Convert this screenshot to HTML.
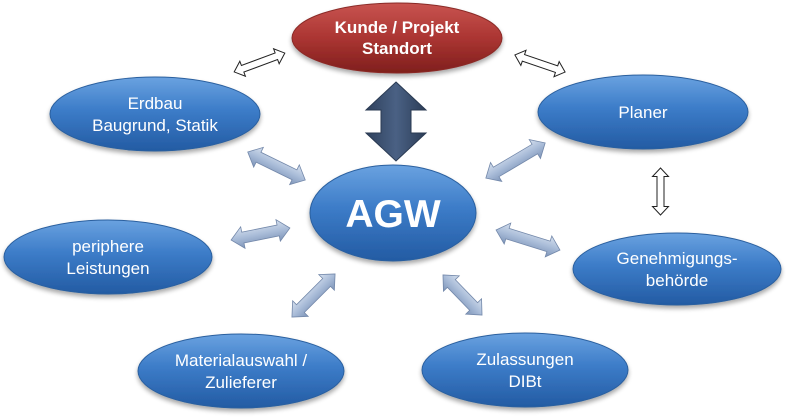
<!DOCTYPE html>
<html><head><meta charset="utf-8"><style>
html,body{margin:0;padding:0;background:#fff;}
svg{display:block;}
text{font-family:"Liberation Sans","DejaVu Sans",sans-serif;fill:#fff;text-anchor:middle;}
</style></head><body>
<svg width="787" height="417" viewBox="0 0 787 417" xmlns="http://www.w3.org/2000/svg">
<defs>
<linearGradient id="blue" x1="0" y1="0" x2="0" y2="1">
<stop offset="0" stop-color="#6aa2e0"/><stop offset="0.45" stop-color="#3c7cc8"/><stop offset="1" stop-color="#235ba3"/>
</linearGradient>
<linearGradient id="red" x1="0" y1="0" x2="0" y2="1">
<stop offset="0" stop-color="#c85450"/><stop offset="0.5" stop-color="#ab3532"/><stop offset="1" stop-color="#7f1f1d"/>
</linearGradient>
<linearGradient id="arr" x1="0" y1="0" x2="0" y2="1">
<stop offset="0" stop-color="#d6e0ee"/><stop offset="0.5" stop-color="#a9bcd8"/><stop offset="1" stop-color="#7d94b8"/>
</linearGradient>
<linearGradient id="dark" x1="0" y1="0" x2="1" y2="0">
<stop offset="0" stop-color="#2f415d"/><stop offset="0.5" stop-color="#4a6184"/><stop offset="1" stop-color="#2c3d57"/>
</linearGradient>
<filter id="sh" x="-10%" y="-10%" width="120%" height="130%">
<feGaussianBlur in="SourceAlpha" stdDeviation="2.5"/><feOffset dy="3"/>
<feComponentTransfer><feFuncA type="linear" slope="0.35"/></feComponentTransfer>
<feMerge><feMergeNode/><feMergeNode in="SourceGraphic"/></feMerge>
</filter>
</defs>

<g filter="url(#sh)">
<ellipse cx="397" cy="38" rx="105" ry="35" fill="url(#red)" stroke="#8a2a27" stroke-width="1"/>
<ellipse cx="155" cy="114" rx="105" ry="37" fill="url(#blue)" stroke="#2c609f" stroke-width="1"/>
<ellipse cx="643" cy="112" rx="105" ry="37" fill="url(#blue)" stroke="#2c609f" stroke-width="1"/>
<ellipse cx="393" cy="213" rx="83" ry="48" fill="url(#blue)" stroke="#2c609f" stroke-width="1"/>
<ellipse cx="108" cy="257" rx="104" ry="37" fill="url(#blue)" stroke="#2c609f" stroke-width="1"/>
<ellipse cx="677" cy="269" rx="104" ry="36" fill="url(#blue)" stroke="#2c609f" stroke-width="1"/>
<ellipse cx="241" cy="371" rx="103" ry="37" fill="url(#blue)" stroke="#2c609f" stroke-width="1"/>
<ellipse cx="525" cy="370" rx="103" ry="37" fill="url(#blue)" stroke="#2c609f" stroke-width="1"/>
</g>

<text x="397" y="33" font-size="17" font-weight="bold">Kunde / Projekt</text>
<text x="397" y="54" font-size="17" font-weight="bold">Standort</text>
<text x="155" y="109" font-size="17">Erdbau</text>
<text x="155" y="131" font-size="17">Baugrund, Statik</text>
<text x="643" y="118" font-size="17">Planer</text>
<text x="393" y="227" font-size="39" font-weight="bold">AGW</text>
<text x="108" y="252" font-size="17">periphere</text>
<text x="108" y="274" font-size="17">Leistungen</text>
<text x="677" y="264" font-size="17">Genehmigungs-</text>
<text x="677" y="286" font-size="17">behörde</text>
<text x="241" y="366" font-size="17">Materialauswahl /</text>
<text x="241" y="388" font-size="17">Zulieferer</text>
<text x="525" y="365" font-size="17">Zulassungen</text>
<text x="525" y="387" font-size="17">DIBt</text>

<polygon points="396,82 426,110 411,110 411,133 426,133 396,161 366,133 381,133 381,110 366,110" fill="url(#dark)" stroke="#2a3a52" stroke-width="1"/>

<g fill="#fff" stroke="#222" stroke-width="1">
<polygon transform="translate(259.5,62.5) rotate(-20.4)" points="-27,0 -18,-8 -18,-3.5 18,-3.5 18,-8 27,0 18,8 18,3.5 -18,3.5 -18,8"/>
<polygon transform="translate(540,63.5) rotate(18.8)" points="-26.5,0 -17.5,-8 -17.5,-3.5 17.5,-3.5 17.5,-8 26.5,0 17.5,8 17.5,3.5 -17.5,3.5 -17.5,8"/>
<polygon transform="translate(660.5,191.5) rotate(90)" points="-23.5,0 -15,-8 -15,-3.5 15,-3.5 15,-8 23.5,0 15,8 15,3.5 -15,3.5 -15,8"/>
</g>

<g fill="url(#arr)" stroke="#7388aa" stroke-width="0.8">
<polygon transform="translate(276.5,166) rotate(26)" points="-32,0 -20,-11 -20,-5.5 20,-5.5 20,-11 32,0 20,11 20,5.5 -20,5.5 -20,11"/>
<polygon transform="translate(515.5,160.5) rotate(-30.7)" points="-34.5,0 -22.5,-11 -22.5,-5.5 22.5,-5.5 22.5,-11 34.5,0 22.5,11 22.5,5.5 -22.5,5.5 -22.5,11"/>
<polygon transform="translate(260.5,234) rotate(-11.5)" points="-30,0 -18,-11 -18,-5.5 18,-5.5 18,-11 30,0 18,11 18,5.5 -18,5.5 -18,11"/>
<polygon transform="translate(528,240) rotate(17.4)" points="-33.5,0 -21.5,-11 -21.5,-5.5 21.5,-5.5 21.5,-11 33.5,0 21.5,11 21.5,5.5 -21.5,5.5 -21.5,11"/>
<polygon transform="translate(313.5,295.5) rotate(-45)" points="-30.5,0 -18.5,-11 -18.5,-5.5 18.5,-5.5 18.5,-11 30.5,0 18.5,11 18.5,5.5 -18.5,5.5 -18.5,11"/>
<polygon transform="translate(462.5,295) rotate(45.8)" points="-28,0 -16,-11 -16,-5.5 16,-5.5 16,-11 28,0 16,11 16,5.5 -16,5.5 -16,11"/>
</g>
</svg>
</body></html>
